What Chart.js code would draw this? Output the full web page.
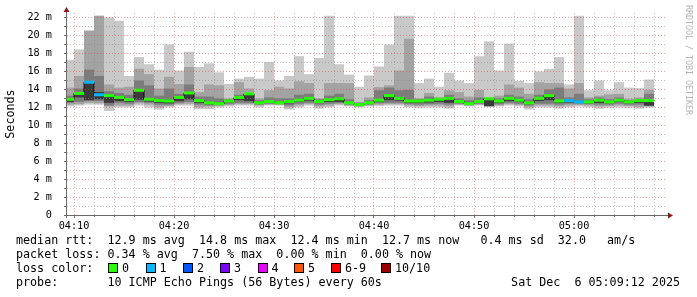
<!DOCTYPE html>
<html>
<head>
<meta charset="utf-8">
<title>SmokePing latency</title>
<script src="https://cdn.jsdelivr.net/npm/chart.js"></script>
<style>
  body { margin: 0; background: #fff; }
  #wrap { position: relative; width: 697px; height: 297px; overflow: hidden;
          font-family: "DejaVu Sans Mono", monospace; font-size: 11.7px; color: #000; }
  #chart { position: absolute; left: 0; top: 0; }
  .row { position: absolute; white-space: pre; line-height: 14px; }
  .box { position: absolute; width: 8px; height: 8px; border: 1px solid #000; }
</style>
</head>
<body>
<div id="wrap">
  <canvas id="chart" width="697" height="297"></canvas>
  <div class="row" style="left:16px; top:233px">median rtt:  12.9 ms avg  14.8 ms max  12.4 ms min  12.7 ms now   0.4 ms sd  32.0   am/s</div>
  <div class="row" style="left:16px; top:247px">packet loss: 0.34 % avg  7.50 % max  0.00 % min  0.00 % now</div>
  <div class="row" id="lossRow" style="left:16px; top:261px">loss color:</div>
  <div class="row" style="left:16px; top:275px">probe:       10 ICMP Echo Pings (56 Bytes) every 60s</div>
  <div class="row" style="right:17px; top:275px">Sat Dec  6 05:09:12 2025</div>
</div>
<script>
// one sample per minute, first one ends at 04:10 (minutes after 04:00)
const medianMs = [12.9, 13.55, 14.8, 13.4, 13.3, 13.1, 12.85, 13.9, 12.9, 12.75,
  12.7, 13.1, 13.6, 12.75, 12.5, 12.4, 12.7, 13.1, 13.5, 12.5,
  12.65, 12.5, 12.65, 12.8, 13.0, 12.65, 12.85, 12.95, 12.5, 12.3,
  12.5, 12.8, 13.3, 13.0, 12.7, 12.7, 12.8, 12.9, 13.0, 12.65,
  12.4, 12.65, 12.95, 12.7, 13.0, 12.8, 12.5, 13.0, 13.3, 12.7,
  12.75, 12.6, 12.6, 12.8, 12.6, 12.8, 12.6, 12.75, 12.75];
const lossCount = [0, 0, 1, 1, 0, 0, 0, 0, 0, 0, 0, 0, 0, 0, 0, 0, 0, 0, 0, 0,
  0, 0, 0, 0, 0, 0, 0, 0, 0, 0, 0, 0, 0, 0, 0, 0, 0, 0, 0, 0,
  0, 0, 0, 0, 0, 0, 0, 0, 0, 0, 1, 1, 0, 0, 0, 0, 0, 0, 0];
const smokeMax = [17.3, 18.45, 20.55, 22.2, 22.05, 21.65, 15.5, 17.6, 16.8, 16.2,
  19.0, 16.1, 18.2, 16.5, 16.9, 15.9, 14.6, 15.2, 15.4, 15.2,
  17.05, 15.0, 15.5, 17.7, 15.7, 17.5, 22.2, 16.8, 15.65, 14.3,
  15.55, 16.55, 19.0, 22.2, 22.2, 14.7, 15.2, 14.3, 15.85, 15.0,
  14.7, 17.7, 19.35, 16.1, 19.1, 14.95, 14.7, 16.0, 16.3, 17.6,
  14.55, 22.2, 13.9, 15.0, 13.9, 14.8, 14.2, 14.15, 15.1];
const smokeHi = [14.2, 15.5, 20.55, 22.2, 14.55, 14.2, 14.3, 16.3, 15.7, 14.1,
  15.4, 14.6, 16.5, 13.7, 14.55, 14.45, 13.0, 14.8, 14.1, 13.0,
  13.9, 14.3, 14.1, 14.9, 14.7, 13.0, 14.7, 14.7, 14.7, 12.6,
  13.1, 14.25, 14.45, 16.1, 19.65, 13.0, 13.6, 13.1, 13.9, 13.7,
  13.2, 13.95, 13.1, 13.3, 14.55, 14.2, 13.5, 14.8, 14.7, 14.7,
  14.1, 14.7, 13.1, 13.3, 13.45, 13.5, 12.95, 13.1, 13.95];
const smokeMid = [13.3, 14.1, 16.2, 15.5, 13.8, 13.6, 13.4, 15.0, 14.45, 13.3,
  14.1, 13.5, 14.55, 13.2, 13.2, 13.0, 12.9, 13.4, 13.6, 12.8,
  13.1, 13.0, 13.0, 13.4, 13.5, 12.9, 13.3, 13.5, 12.9, 12.5,
  12.8, 13.9, 14.2, 13.9, 13.95, 12.9, 13.2, 13.05, 13.4, 13.0,
  12.8, 13.1, 13.0, 13.0, 13.4, 13.2, 12.9, 13.4, 14.0, 14.2,
  13.1, 13.5, 12.9, 13.1, 12.9, 13.1, 12.8, 12.9, 13.5];
const coreHi = [13.0, 13.6, 14.8, 13.7, 13.4, 13.2, 12.95, 13.9, 13.0, 12.85,
  12.8, 13.2, 13.6, 12.85, 12.6, 12.5, 12.8, 13.2, 13.5, 12.6,
  12.75, 12.6, 12.75, 12.9, 13.1, 12.75, 12.95, 13.05, 12.6, 12.35,
  12.6, 12.9, 13.3, 13.1, 12.8, 12.8, 12.9, 13.0, 13.0, 12.75,
  12.5, 12.75, 12.95, 12.8, 13.1, 12.9, 12.6, 13.1, 13.4, 12.8,
  12.85, 12.7, 12.7, 12.9, 12.7, 12.9, 12.7, 12.85, 12.75];
const coreLo = [12.6, 13.1, 12.8, 12.9, 12.5, 12.7, 12.6, 12.85, 12.65, 12.5,
  12.45, 12.7, 12.9, 12.5, 12.35, 12.3, 12.55, 12.8, 12.7, 12.4,
  12.5, 12.4, 12.45, 12.6, 12.75, 12.5, 12.6, 12.6, 12.4, 12.2,
  12.4, 12.6, 12.8, 12.75, 12.5, 12.5, 12.55, 12.6, 12.5, 12.5,
  12.3, 12.5, 12.15, 12.5, 12.7, 12.6, 12.35, 12.7, 12.8, 12.5,
  12.55, 12.5, 12.45, 12.5, 12.45, 12.6, 12.45, 12.5, 12.2];
const smokeLo2 = [12.5, 12.6, 12.7, 12.7, 12.2, 12.5, 12.4, 12.6, 12.5, 12.3,
  12.3, 12.5, 12.6, 12.3, 12.2, 12.25, 12.4, 12.5, 12.5, 12.3,
  12.4, 12.35, 12.2, 12.4, 12.5, 12.3, 12.4, 12.5, 12.3, 12.15,
  12.3, 12.45, 12.5, 12.5, 12.35, 12.3, 12.35, 12.4, 12.3, 12.4,
  12.25, 12.4, 12.1, 12.35, 12.5, 12.4, 12.2, 12.4, 12.4, 12.3,
  12.4, 12.4, 12.35, 12.3, 12.3, 12.4, 12.3, 12.3, 12.15];
const smokeLo = [12.3, 12.35, 12.5, 12.45, 12.1, 12.2, 12.2, 12.45, 12.3, 12.0,
  12.15, 12.35, 12.4, 12.0, 12.1, 12.15, 12.25, 12.35, 12.35, 12.2,
  12.3, 12.3, 12.0, 12.2, 12.35, 12.1, 12.2, 12.35, 12.2, 12.1,
  12.2, 12.3, 12.35, 12.35, 12.2, 12.15, 12.2, 12.2, 12.1, 12.3,
  12.2, 12.3, 12.1, 12.2, 12.35, 12.25, 12.0, 12.2, 12.2, 12.1,
  12.2, 12.25, 12.2, 12.1, 12.15, 12.2, 12.15, 12.05, 12.1];
const smokeMin = [12.1, 12.2, 12.3, 12.3, 11.6, 12.0, 12.0, 12.2, 12.0, 11.75,
  12.0, 12.2, 12.2, 11.8, 11.8, 12.0, 12.1, 12.2, 12.2, 12.0,
  12.2, 12.2, 11.75, 12.0, 12.2, 11.85, 12.0, 12.2, 12.1, 12.0,
  12.1, 12.15, 12.2, 12.2, 12.0, 11.95, 12.0, 12.0, 11.85, 12.2,
  12.1, 12.2, 12.1, 12.1, 12.2, 12.1, 11.75, 12.0, 12.0, 11.85,
  12.0, 12.1, 12.0, 11.85, 11.95, 12.0, 11.95, 11.85, 12.0];

const xTickValues = [10, 20, 30, 40, 50, 60];
const xTickLabels = ["04:10", "04:20", "04:30", "04:40", "04:50", "05:00"];
const yTickValues = [0, 2, 4, 6, 8, 10, 12, 14, 16, 18, 20, 22];
const yTickLabels = ["0", "2 m", "4 m", "6 m", "8 m", "10 m", "12 m", "14 m", "16 m", "18 m", "20 m", "22 m"];
const lossLabels = ["0", "1", "2", "3", "4", "5", "6-9", "10/10"];
const lossColors = ["#26ff00", "#00b8ff", "#0059ff", "#7e00ff", "#ee00ff", "#ff5500", "#ff0000", "#a10000"];
const lossBoxX = [92, 129.5, 167, 204, 241.5, 278, 315, 365];

// sample centres, one per minute
const slots = medianMs.map((m, i) => 9.5 + i);

function lossColor(n) {
    if (n <= 5) return lossColors[n];
    if (n < 10) return lossColors[6];
    return lossColors[7];
}

function floating(lo, hi) {
    return slots.map((x, i) => ({ x: x, y: [lo[i], hi[i]] }));
}

function smokeLayer(lo, hi, color, order) {
    return {
        type: "bar",
        data: floating(lo, hi),
        backgroundColor: color,
        borderWidth: 0,
        inflateAmount: 0,
        grouped: false,
        barPercentage: 1,
        categoryPercentage: 1,
        order: order,
    };
}

// loss colour legend
const lossRow = document.getElementById("lossRow");
lossLabels.forEach((label, i) => {
    lossRow.innerHTML += `<span class="box" style="left:${lossBoxX[i]}px; top:2px; background:${lossColors[i]}"></span>` +
        `<span style="position:absolute; left:${lossBoxX[i] + 14}px; top:0">${label}</span>`;
});

const axisFont = { family: "DejaVu Sans Mono", size: 10.2 };
const unitFont = { family: "DejaVu Sans Mono", size: 11.7 };
const minorGrid = "rgba(140,140,140,0.55)";
const majorGrid = "rgba(222,80,80,0.55)";

const rrdFrame = {
    id: "rrdFrame",
    afterDatasetsDraw(chart) {
        const { ctx, chartArea: a, scales: { x, y } } = chart;
        ctx.save();
        ctx.lineWidth = 1;

        // dotted grid, drawn over the smoke like rrdtool does
        ctx.setLineDash([1, 2]);
        for (let v = 1; v <= 22; v++) {
            const py = Math.floor(y.getPixelForValue(v)) + 0.5;
            ctx.strokeStyle = v % 2 ? minorGrid : majorGrid;
            ctx.beginPath(); ctx.moveTo(a.left, py); ctx.lineTo(a.right, py); ctx.stroke();
        }
        for (let m = 10; m <= 68; m += 2) {
            const px = Math.floor(x.getPixelForValue(m)) + 0.5;
            ctx.strokeStyle = m % 10 ? minorGrid : majorGrid;
            ctx.beginPath(); ctx.moveTo(px, a.top); ctx.lineTo(px, a.bottom); ctx.stroke();
        }
        ctx.setLineDash([]);

        // small ticks outside the axes
        ctx.strokeStyle = "#707070";
        for (let v = 1; v <= 22; v++) {
            const py = Math.floor(y.getPixelForValue(v)) + 0.5;
            ctx.beginPath(); ctx.moveTo(a.left - 3, py); ctx.lineTo(a.left - 1, py); ctx.stroke();
        }
        for (let m = 10; m <= 68; m += 2) {
            const px = Math.floor(x.getPixelForValue(m)) + 0.5;
            ctx.beginPath(); ctx.moveTo(px, a.bottom); ctx.lineTo(px, a.bottom + (m % 10 ? 2 : 3)); ctx.stroke();
        }

        // axes
        const ax = a.left - 0.5;
        const ay = Math.floor(a.bottom) + 0.5;
        ctx.strokeStyle = "#6a6a6a";
        ctx.beginPath();
        ctx.moveTo(ax, a.bottom + 3); ctx.lineTo(ax, 12);
        ctx.moveTo(a.left - 3, ay); ctx.lineTo(a.right + 2, ay);
        ctx.stroke();

        // arrows
        ctx.fillStyle = "#8b1a1a";
        ctx.beginPath();
        ctx.moveTo(ax - 3, 12); ctx.lineTo(ax + 3, 12); ctx.lineTo(ax, 7); ctx.closePath(); ctx.fill();
        ctx.beginPath();
        ctx.moveTo(a.right + 1, ay - 3); ctx.lineTo(a.right + 1, ay + 3); ctx.lineTo(a.right + 6, ay); ctx.closePath(); ctx.fill();

        // watermark
        ctx.translate(688, 5);
        ctx.rotate(Math.PI / 2);
        ctx.fillStyle = "#b4b4b4";
        ctx.font = "8.3px 'DejaVu Sans Mono'";
        ctx.textBaseline = "middle";
        ctx.textAlign = "left";
        ctx.fillText("RRDTOOL / TOBI OETIKER", 0, 0);
        ctx.restore();
    },
};

new Chart(document.getElementById("chart"), {
    type: "bar",
    data: {
        datasets: [
            smokeLayer(smokeMin, smokeMax, "#c9c9c9", 6),
            smokeLayer(smokeLo, smokeHi, "#a3a3a3", 5),
            smokeLayer(smokeLo2, smokeMid, "#7c7c7c", 4),
            smokeLayer(coreLo, coreHi, "#3a3a3a", 3),
            {
                type: "line",
                label: "median rtt",
                data: slots.map((x, i) => ({ x: x, y: medianMs[i] })),
                stepped: "middle",
                borderColor: "#111",
                borderWidth: 1,
                pointStyle: "line",
                pointRadius: 5,
                pointBorderWidth: 3,
                pointBorderColor: lossCount.map(lossColor),
                pointBackgroundColor: lossCount.map(lossColor),
                clip: 0,
                order: 1,
            },
        ],
    },
    options: {
        responsive: false,
        animation: false,
        devicePixelRatio: 1,
        layout: { padding: { left: 0, top: 12.5, right: 30, bottom: 0 } },
        plugins: { legend: { display: false }, tooltip: { enabled: false } },
        scales: {
            x: {
                type: "linear",
                min: 9.3,
                max: 69.3,
                offset: false,
                grid: { display: false },
                border: { display: false },
                afterBuildTicks: (s) => { s.ticks = xTickValues.map((v) => ({ value: v })); },
                afterFit: (s) => { s.height = 82; },
                ticks: {
                    padding: -3,
                    maxRotation: 0,
                    autoSkip: false,
                    color: "#000",
                    font: axisFont,
                    callback: (v, i) => xTickLabels[i],
                },
            },
            y: {
                min: 0,
                max: 22.5,
                grid: { display: false },
                border: { display: false },
                afterBuildTicks: (s) => { s.ticks = yTickValues.map((v) => ({ value: v })); },
                afterFit: (s) => { s.width = 67; },
                ticks: {
                    padding: 7,
                    autoSkip: false,
                    color: "#000",
                    font: axisFont,
                    callback: (v, i) => yTickLabels[i],
                },
                title: {
                    display: true,
                    text: "Seconds",
                    color: "#000",
                    font: unitFont,
                    padding: { top: 4, bottom: 0 },
                },
            },
        },
    },
    plugins: [rrdFrame],
});
</script>
</body>
</html>
